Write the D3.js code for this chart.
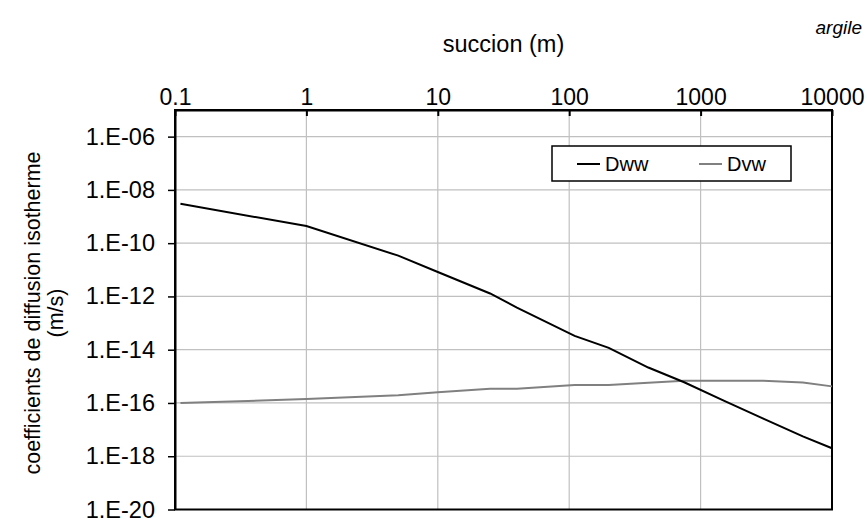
<!DOCTYPE html>
<html>
<head>
<meta charset="utf-8">
<script src="https://cdn.jsdelivr.net/npm/d3@7"></script>
<style>
  html, body { margin: 0; padding: 0; background: #fff; }
  svg { display: block; font-family: "Liberation Sans", Arial, sans-serif; }
</style>
</head>
<body>
<svg id="chart" width="867" height="524"></svg>
<script>
// ---- data ----
const succion = [0.11, 1, 5, 10, 25, 40, 110, 200, 400, 750, 1500, 3000, 6000, 10000];
const Dww = [3.0e-9, 4.4e-10, 3.4e-11, 8.3e-12, 1.29e-12, 3.8e-13, 3.3e-14, 1.17e-14, 2.14e-15, 6.0e-16, 1.23e-16, 2.6e-17, 5.6e-18, 2.0e-18];
const Dvw = [1.0e-16, 1.4e-16, 1.94e-16, 2.5e-16, 3.45e-16, 3.45e-16, 4.7e-16, 4.7e-16, 5.8e-16, 6.8e-16, 6.8e-16, 6.8e-16, 5.9e-16, 4.2e-16];
const seriesNames = ["Dww", "Dvw"];
const xTicks = [0.1, 1, 10, 100, 1000, 10000];
const xTickLabels = ["0.1", "1", "10", "100", "1000", "10000"];
const yTicks = [1e-20, 1e-18, 1e-16, 1e-14, 1e-12, 1e-10, 1e-8, 1e-6];
const yTickLabels = ["1.E-20", "1.E-18", "1.E-16", "1.E-14", "1.E-12", "1.E-10", "1.E-08", "1.E-06"];
const xTitle = "succion (m)";
const yTitle = ["coefficients de diffusion isotherme", "(m/s)"];
const cornerNote = "argile";

// ---- layout ----
const L = 175, R = 832, T = 110, B = 509.5;
const svg = d3.select("#chart");
const x = d3.scaleLog().domain([0.1, 10000]).range([L, R]);
const y = d3.scaleLog().domain([1e-20, 1e-5]).range([B, T]);

// gridlines
const grid = svg.append("g");
grid.selectAll("line.v").data(xTicks.slice(1, -1)).join("line")
  .attr("x1", d => x(d)).attr("x2", d => x(d)).attr("y1", T).attr("y2", B)
  .attr("stroke", "#c0c0c0").attr("stroke-width", 1.2);
grid.selectAll("line.h").data(yTicks.slice(1)).join("line")
  .attr("x1", L).attr("x2", R).attr("y1", d => y(d)).attr("y2", d => y(d))
  .attr("stroke", "#c0c0c0").attr("stroke-width", 1.2);

// frame
svg.append("rect").attr("x", L).attr("y", T).attr("width", R - L).attr("height", B - T)
  .attr("fill", "none").attr("stroke", "#000").attr("stroke-width", 2);

// top x axis (ticks inward)
const xAxis = d3.axisTop(x).tickValues(xTicks)
  .tickFormat((d, i) => xTickLabels[i]).tickSizeInner(-6).tickSizeOuter(0).tickPadding(8);
const gx = svg.append("g").attr("transform", `translate(0,${T})`).call(xAxis);
gx.select(".domain").attr("stroke", "#000").attr("stroke-width", 2);
gx.selectAll(".tick line").attr("stroke", "#000").attr("stroke-width", 2);
gx.selectAll(".tick text").attr("font-size", 23).attr("fill", "#000")
  .attr("y", -5).attr("dy", 0);

// left y axis
const yAxis = d3.axisLeft(y).tickValues(yTicks)
  .tickFormat((d, i) => yTickLabels[i]).tickSizeInner(7).tickSizeOuter(0).tickPadding(13);
const gy = svg.append("g").attr("transform", `translate(${L},0)`).call(yAxis);
gy.select(".domain").attr("stroke", "#000").attr("stroke-width", 2);
gy.selectAll(".tick line").attr("stroke", "#000").attr("stroke-width", 1.5);
gy.selectAll(".tick text").attr("font-size", 23.5).attr("fill", "#000");
svg.selectAll(".tick text").attr("font-family", "Liberation Sans, Arial, sans-serif");

// lines
const line = d3.line().x(d => x(d[0])).y(d => y(d[1]));
svg.append("path").datum(succion.map((s, i) => [s, Dvw[i]]))
  .attr("d", line).attr("fill", "none").attr("stroke", "#808080").attr("stroke-width", 2);
svg.append("path").datum(succion.map((s, i) => [s, Dww[i]]))
  .attr("d", line).attr("fill", "none").attr("stroke", "#000").attr("stroke-width", 2);

// titles
svg.append("text").attr("x", (L + R) / 2).attr("y", 52).attr("text-anchor", "middle")
  .attr("font-size", 23.5).text(xTitle);
svg.append("text").attr("x", 862).attr("y", 34).attr("text-anchor", "end")
  .attr("font-size", 19).attr("font-style", "italic").text(cornerNote);
const yt = svg.append("text").attr("transform", "translate(40,313) rotate(-90)")
  .attr("text-anchor", "middle").attr("font-size", 21.5);
yt.selectAll("tspan").data(yTitle).join("tspan")
  .attr("x", 0).attr("dy", (d, i) => i === 0 ? 0 : 23).text(d => d);

// legend
const lg = svg.append("g");
lg.append("rect").attr("x", 552).attr("y", 146).attr("width", 239).attr("height", 35)
  .attr("fill", "#fff").attr("stroke", "#000").attr("stroke-width", 1.5);
const legendColors = ["#000", "#808080"];
const legX = [577, 699];
seriesNames.forEach((n, i) => {
  lg.append("line").attr("x1", legX[i]).attr("x2", legX[i] + 23).attr("y1", 164).attr("y2", 164)
    .attr("stroke", legendColors[i]).attr("stroke-width", 2);
  lg.append("text").attr("x", legX[i] + 28).attr("y", 171).attr("font-size", 20).text(n);
});
</script>
</body>
</html>
